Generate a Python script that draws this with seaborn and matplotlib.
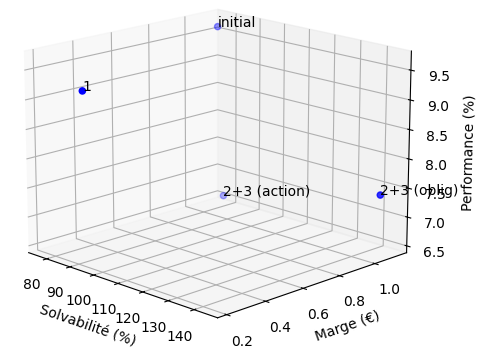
import matplotlib
matplotlib.use("Agg")
import matplotlib.pyplot as plt
import seaborn as sns

sns.reset_orig()

labels = ['initial', '1', '2+3 (action)', '2+3 (oblig)']
solvabilite = [77, 91, 81, 144]
marge = [1.12, 0.22, 1.10, 1.10]
performance = [9.6, 9.3, 6.6, 7.4]

fig = plt.figure(figsize=(4.86, 3.53), dpi=100)
ax = fig.add_subplot(111, projection='3d')
ax.set_position([0.0, -0.05, 0.872, 1.2])
ax.set_box_aspect((4, 4, 3.1))

ax.scatter(solvabilite, marge, performance, c='b')
for x, y, z, lab in zip(solvabilite, marge, performance, labels):
    ax.text(x, y, z, lab)

ax.set_xlabel('Solvabilité (%)')
ax.set_ylabel('Marge (€)')
ax.set_zlabel('Performance (%)')
ax.view_init(elev=16, azim=-45)

plt.savefig('out.png', dpi=100)
